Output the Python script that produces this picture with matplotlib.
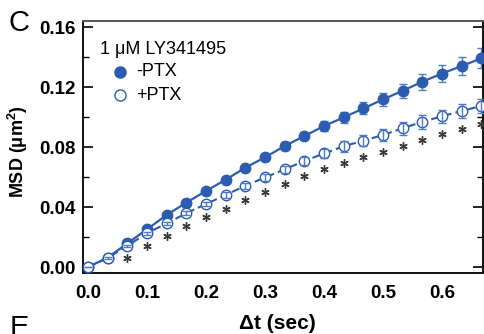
import matplotlib
matplotlib.use("Agg")
import matplotlib.pyplot as plt
import matplotlib.transforms as mtransforms
from matplotlib.ticker import MultipleLocator, FormatStrFormatter

plt.rcParams['font.family'] = ['Liberation Sans', 'DejaVu Sans']
plt.rcParams['mathtext.fontset'] = 'custom'
plt.rcParams['mathtext.rm'] = 'Liberation Sans'
plt.rcParams['mathtext.bf'] = 'Liberation Sans:bold'

# ---- data ----
dt = [i / 30 for i in range(21)]
msd_minus = [0.0, 0.0062, 0.0158, 0.0251, 0.0347, 0.0429, 0.0507, 0.0582, 0.0662, 0.0731,
             0.0807, 0.0873, 0.0940, 0.0997, 0.1057, 0.1117, 0.1175, 0.1235, 0.1290, 0.1340, 0.1391]
err_minus = [0.0, 0.0005, 0.0008, 0.0010, 0.0012, 0.0014, 0.0016, 0.0018, 0.0020, 0.0022,
             0.0024, 0.0027, 0.0032, 0.0034, 0.0040, 0.0045, 0.0047, 0.0052, 0.0055, 0.0060, 0.0066]
msd_plus = [0.0, 0.0060, 0.0142, 0.0225, 0.0291, 0.0358, 0.0420, 0.0480, 0.0542, 0.0597,
            0.0651, 0.0707, 0.0757, 0.0805, 0.0842, 0.0880, 0.0925, 0.0968, 0.1005, 0.1040, 0.1074]
err_plus = [0.0, 0.0005, 0.0008, 0.0010, 0.0012, 0.0014, 0.0016, 0.0018, 0.0020, 0.0022,
            0.0025, 0.0028, 0.0032, 0.0035, 0.0038, 0.0040, 0.0044, 0.0046, 0.0043, 0.0046, 0.0045]
significant = [False, False] + [True] * 19
xticks = [0.0, 0.1, 0.2, 0.3, 0.4, 0.5, 0.6]
xticklabels = ['0.0', '0.1', '0.2', '0.3', '0.4', '0.5', '0.6']

legend_title = "1 \u03bcM LY341495"
label_minus = "-PTX"
label_plus = "+PTX"

blue = '#2c5cb0'
ebar = '#4d7bc8'

W, H = 484, 334
fig = plt.figure(figsize=(W / 100, H / 100), dpi=100)
ax = fig.add_axes([83 / W, (H - 273) / H, 400 / W, 252 / H])

ax.errorbar(dt, msd_minus, yerr=err_minus, fmt='none', ecolor=ebar, elinewidth=1.0,
            capsize=3.2, capthick=1.0, zorder=2)
ax.plot(dt, msd_minus, '-', color=blue, lw=1.6, marker='o', ms=7.5,
        mfc=blue, mec=blue, zorder=3)

ax.plot(dt, msd_plus, color=blue, lw=1.5, ls=(0, (4, 2)), marker='o', ms=7.5,
        mfc='white', mec=blue, mew=1.0, zorder=4)
ax.errorbar(dt, msd_plus, yerr=err_plus, fmt='none', ecolor=ebar, elinewidth=1.0,
            capsize=3.2, capthick=1.0, zorder=5)

trans = mtransforms.offset_copy(ax.transData, fig=fig, x=0, y=-11, units='dots')
sx = [x for x, s in zip(dt, significant) if s]
sy = [y - e for y, e, s in zip(msd_plus, err_plus, significant) if s]
ax.plot(sx, sy, ls='none', marker=(6, 2, 0), ms=6, mew=1.0, color='#3a3a3a',
        transform=trans, zorder=6)

ax.set_xlim(-0.0085, 0.6695)
ax.set_ylim(-0.004, 0.164)
ax.set_xticks(xticks)
ax.set_xticklabels(xticklabels)
ax.yaxis.set_major_locator(MultipleLocator(0.04))
ax.yaxis.set_minor_locator(MultipleLocator(0.02))
ax.yaxis.set_major_formatter(FormatStrFormatter('%.2f'))

ax.tick_params(axis='y', which='major', direction='in', length=7, width=1.2,
               left=True, right=True, labelsize=13.5, pad=5)
ax.tick_params(axis='y', which='minor', direction='in', length=4, width=1.0,
               left=True, right=True)
ax.tick_params(axis='x', which='both', length=0, labelsize=13.5, pad=9)
for lab in ax.get_xticklabels() + ax.get_yticklabels():
    lab.set_fontweight('bold')

for s in ['left', 'bottom', 'right']:
    ax.spines[s].set_linewidth(1.4)
    ax.spines[s].set_color('#111111')
ax.spines['top'].set_linewidth(1.4)
ax.spines['top'].set_color('#555555')

ax.set_xlabel('\u0394t (sec)', fontsize=15, fontweight='bold')
ax.xaxis.set_label_coords((277 - 83) / 400, -(333 - 273) / 252)
ax.xaxis.label.set_va('bottom')
ax.set_ylabel(r'MSD ($\mathbf{\mu m^{2}}$)', fontsize=13, fontweight='bold')
ax.yaxis.set_label_coords(-(83 - 30) / 400, (273 - 152) / 252)

# manual legend (positions in pixels from figure top-left)
def fx(px):
    return px / W

def fy(py):
    return 1 - py / H

fig.text(fx(100), fy(50), legend_title, fontsize=13, va='center', ha='left')
fig.add_artist(plt.Line2D([fx(120)], [fy(72)], ls='none', marker='o', ms=8,
                          mfc=blue, mec=blue, transform=fig.transFigure))
fig.add_artist(plt.Line2D([fx(120)], [fy(95)], ls='none', marker='o', ms=8,
                          mfc='white', mec=blue, mew=1.0, transform=fig.transFigure))
fig.text(fx(136), fy(72), label_minus, fontsize=13, va='center', ha='left')
fig.text(fx(136), fy(95), label_plus, fontsize=13, va='center', ha='left')

fig.text(fx(9), fy(23), 'C', fontsize=21, va='center', ha='left')
fig.text(fx(10), fy(314), 'E', fontsize=21, va='top', ha='left')

fig.savefig('out.png', dpi=100)
